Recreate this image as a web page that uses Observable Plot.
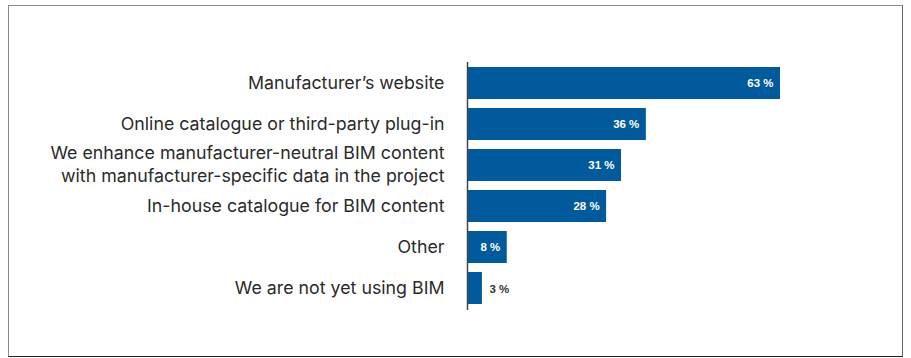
<!DOCTYPE html>
<html>
<head>
<meta charset="utf-8">
<script src="https://cdn.jsdelivr.net/npm/d3@7"></script>
<script src="https://cdn.jsdelivr.net/npm/@observablehq/plot@0.6"></script>
<style>
  html, body { margin: 0; padding: 0; background: #fff; }
  #wrap { position: relative; width: 911px; height: 358px; }
  #box { position: absolute; left: 8px; top: 5px; width: 893px; height: 350px;
         border-top: 1.5px solid #8a8a8a; border-left: 1.5px solid #8a8a8a;
         border-right: 1.5px solid #666; border-bottom: 1.5px solid #222; pointer-events: none; }
</style>
</head>
<body>
<div id="wrap"><div id="box"></div></div>
<script>
const categories = [
  "Manufacturer’s website",
  "Online catalogue or third-party plug-in",
  "We enhance manufacturer-neutral BIM content\nwith manufacturer-specific data in the project",
  "In-house catalogue for BIM content",
  "Other",
  "We are not yet using BIM"
];
const values = [63, 36, 31, 28, 8, 3];
const valueLabels = ["63 %", "36 %", "31 %", "28 %", "8 %", "3 %"];

const data = categories.map((c, i) => ({category: c, value: values[i], label: valueLabels[i]}));

const chart = Plot.plot({
  width: 911,
  height: 358,
  marginLeft: 467,
  marginRight: 131,
  marginTop: 62,
  marginBottom: 48,
  style: {fontFamily: "'Liberation Sans', Arial, sans-serif", background: "transparent"},
  x: {domain: [0, 63], axis: null},
  y: {domain: categories, paddingInner: 0.214, paddingOuter: 0.06, label: null},
  marks: [
    Plot.barX(data, {x: "value", y: "category", fill: "#005a9c"}),
    Plot.ruleX([0], {stroke: "#444", strokeWidth: 1.5}),
    Plot.axisY({tickSize: 0, tickPadding: 23, fontSize: 17.8, lineHeight: 1.29, fill: "#2a2a2a", label: null, fontFamily: "Inter, sans-serif", dy: -2}),
    Plot.text(data.filter(d => d.value >= 5), {x: "value", y: "category", text: "label", textAnchor: "end", dx: -7, fill: "white", fontWeight: "bold", fontSize: 11.5}),
    Plot.text(data.filter(d => d.value < 5), {x: "value", y: "category", text: "label", textAnchor: "start", dx: 7, dy: 1, fill: "#333", fontWeight: "bold", fontSize: 11.5})
  ]
});
document.getElementById("wrap").prepend(chart);
</script>
</body>
</html>
